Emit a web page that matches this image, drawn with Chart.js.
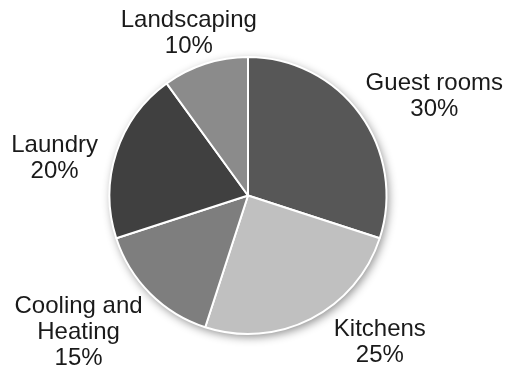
<!DOCTYPE html>
<html>
<head>
<meta charset="utf-8">
<script src="https://cdn.jsdelivr.net/npm/chart.js@4"></script>
<style>
  html, body { margin: 0; padding: 0; background: #fff; }
  #wrap { width: 510px; height: 377px; }
</style>
</head>
<body>
<div id="wrap"><canvas id="usageChart" width="510" height="377"></canvas></div>
<script>
const categories = ['Guest rooms', 'Kitchens', 'Cooling and\nHeating', 'Laundry', 'Landscaping'];
const shares = [30, 25, 15, 20, 10];
const sliceColors = ['#575757', '#c0c0c0', '#7e7e7e', '#404040', '#8b8b8b'];
// per-label [angle shift in degrees, distance from centre in px]
const labelNudge = [[8, 211], [-15, 197], [6, 218], [-7, 197], [-2, 173]];

// soft drop shadow behind the pie
const pieShadow = {
    id: 'pieShadow',
    beforeDatasetsDraw(chart) {
        const arc = chart.getDatasetMeta(0).data[0];
        if (!arc) return;
        const ctx = chart.ctx;
        ctx.save();
        ctx.shadowColor = 'rgba(0,0,0,0.45)';
        ctx.shadowBlur = 10;
        ctx.shadowOffsetX = 2;
        ctx.shadowOffsetY = 3;
        ctx.fillStyle = '#ffffff';
        ctx.beginPath();
        ctx.arc(arc.x, arc.y, arc.outerRadius, 0, Math.PI * 2);
        ctx.fill();
        ctx.restore();
    }
};

// category name and percentage written outside each slice
const sliceLabels = {
    id: 'sliceLabels',
    afterDatasetsDraw(chart) {
        const ctx = chart.ctx;
        const meta = chart.getDatasetMeta(0);
        ctx.save();
        ctx.font = '24px "Liberation Sans", Arial, sans-serif';
        ctx.fillStyle = '#1a1a1a';
        ctx.textAlign = 'center';
        ctx.textBaseline = 'middle';
        meta.data.forEach((arc, i) => {
            const mid = (arc.startAngle + arc.endAngle) / 2 + labelNudge[i][0] * Math.PI / 180;
            const cx = arc.x + Math.cos(mid) * labelNudge[i][1];
            const cy = arc.y + Math.sin(mid) * labelNudge[i][1];
            const lines = categories[i].split('\n').concat(shares[i] + '%');
            const lh = 26;
            const top = cy - (lines.length - 1) * lh / 2;
            lines.forEach((t, k) => ctx.fillText(t, cx, top + k * lh));
        });
        ctx.restore();
    }
};

new Chart(document.getElementById('usageChart').getContext('2d'), {
    type: 'pie',
    data: {
        labels: categories,
        datasets: [{
            data: shares,
            backgroundColor: sliceColors,
            borderColor: '#ffffff',
            borderWidth: 2
        }]
    },
    options: {
        responsive: false,
        animation: false,
        layout: { padding: { top: 56, bottom: 42, left: 108, right: 122 } },
        plugins: {
            legend: { display: false },
            tooltip: { enabled: false },
            title: { display: false }
        }
    },
    plugins: [pieShadow, sliceLabels]
});
</script>
</body>
</html>
